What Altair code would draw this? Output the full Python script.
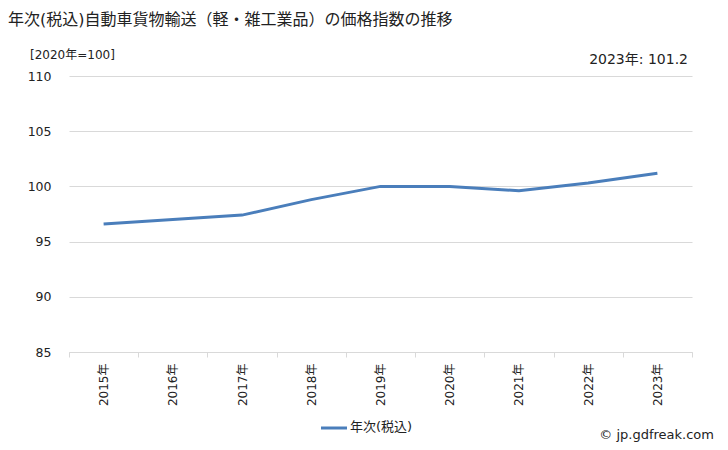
import altair as alt
import pandas as pd

years = ["2015年", "2016年", "2017年", "2018年", "2019年", "2020年", "2021年", "2022年", "2023年"]
values = [96.6, 97.0, 97.4, 98.8, 100.0, 100.0, 99.6, 100.3, 101.2]
y_ticks = [85, 90, 95, 100, 105, 110]

title_text = "年次(税込)自動車貨物輸送（軽・雑工業品）の価格指数の推移"
unit_text = "[2020年=100]"
last_text = "2023年: 101.2"
legend_text = "年次(税込)"
credit_text = "© jp.gdfreak.com"

FONT = "DejaVu Sans, Noto Sans CJK JP"
BLUE = "#4a7ebb"
TXT = "#222222"
GRID = "#d9d9d9"
W, H = 623, 276

df = pd.DataFrame({"year": years, "value": values})

x_enc = alt.X(
    "year:N",
    sort=years,
    bandPosition=0.5,
    scale=alt.Scale(type="band", paddingInner=0, paddingOuter=0),
    axis=alt.Axis(
        title=None,
        tickBand="extent",
        ticks=True,
        tickSize=5,
        tickColor=GRID,
        labelAngle=270,
        labelAlign="right",
        labelBaseline="middle",
        labelFontSize=12,
        labelFont=FONT,
        labelColor=TXT,
        labelPadding=6,
        domainColor=GRID,
        grid=False,
    ),
)
y_enc = alt.Y(
    "value:Q",
    scale=alt.Scale(domain=[85, 110], nice=False, zero=False),
    axis=alt.Axis(
        title=None,
        values=y_ticks,
        domain=False,
        ticks=False,
        grid=True,
        gridColor=GRID,
        labelFontSize=12.5,
        labelFont=FONT,
        labelColor=TXT,
        labelPadding=18,
    ),
)

line = alt.Chart(df).mark_line(color=BLUE, strokeWidth=3).encode(x=x_enc, y=y_enc)

one = pd.DataFrame({"a": [0]})
base = alt.Chart(one)

title = base.mark_text(text=title_text, font=FONT, fontSize=16, align="left", baseline="middle", color=TXT).encode(
    x=alt.value(-61), y=alt.value(-56))
unit = base.mark_text(text=unit_text, font=FONT, fontSize=12, align="left", baseline="middle", color=TXT).encode(
    x=alt.value(-39), y=alt.value(-21))
last = base.mark_text(text=last_text, font=FONT, fontSize=14, align="right", baseline="middle", color=TXT).encode(
    x=alt.value(619), y=alt.value(-16))
leg_line = base.mark_rule(color=BLUE, strokeWidth=3).encode(
    x=alt.value(252), x2=alt.value(278), y=alt.value(352))
leg_text = base.mark_text(text=legend_text, font=FONT, fontSize=13, align="left", baseline="middle", color=TXT).encode(
    x=alt.value(281), y=alt.value(351))
credit = base.mark_text(text=credit_text, font=FONT, fontSize=13, align="right", baseline="middle", color=TXT).encode(
    x=alt.value(645), y=alt.value(359))

chart = (
    alt.layer(line, title, unit, last, leg_line, leg_text, credit)
    .properties(
        width=W, height=H,
        autosize=alt.AutoSizeParams(type="none"),
        padding={"left": 69, "top": 76, "right": 36, "bottom": 98},
        background="white",
    )
    .configure_view(stroke=None)
    .configure_axisX(grid=False)
)

chart.save("out.html", embed_options={"renderer": "svg", "actions": False})
